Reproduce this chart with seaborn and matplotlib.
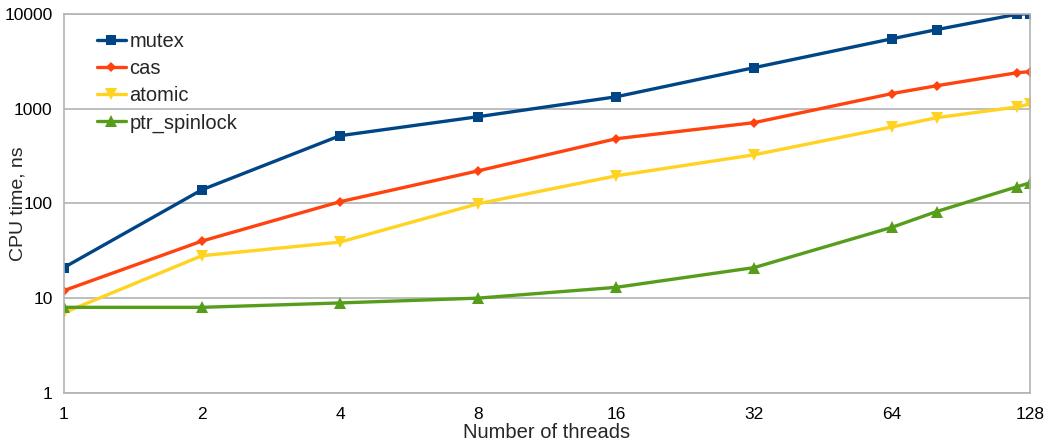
import pandas as pd
import matplotlib
matplotlib.use("Agg")
import matplotlib.pyplot as plt
import seaborn as sns

# ---------------- Data ----------------
threads = [1, 2, 4, 8, 16, 32, 64, 80, 120, 128]
mutex = [21, 139, 517, 820, 1330, 2700, 5450, 6800, 9900, 10000]
cas = [12, 40, 104, 220, 480, 710, 1440, 1740, 2390, 2450]
atomic = [7, 28, 39, 99, 195, 325, 640, 800, 1040, 1120]
ptr_spinlock = [8, 8, 8.9, 10, 13, 21, 56, 82, 150, 165]

series_names = ["mutex", "cas", "atomic", "ptr_spinlock"]
series_values = [mutex, cas, atomic, ptr_spinlock]
x_ticks = [1, 2, 4, 8, 16, 32, 64, 128]
y_ticks = [1, 10, 100, 1000, 10000]

df = pd.concat([pd.DataFrame({"threads": threads, "time": vals, "lock": name})
                for name, vals in zip(series_names, series_values)])

# ---------------- Settings ----------------
sns.set_style("white")
plt.rcParams['font.family'] = ['Liberation Sans', 'DejaVu Sans']

palette = {"mutex": "#004586", "cas": "#ff420e", "atomic": "#ffd320", "ptr_spinlock": "#579d1c"}
markers = {"mutex": "s", "cas": "D", "atomic": "v", "ptr_spinlock": "^"}
msizes = {"mutex": 7, "cas": 5, "atomic": 8, "ptr_spinlock": 8}
grid_c = "#b3b3b3"

fig, ax = plt.subplots(figsize=(10.46, 4.43), dpi=100)
fig.subplots_adjust(left=0.061, right=0.985, top=0.969, bottom=0.113)

for name in series_names:
    sub = df[df["lock"] == name]
    sns.lineplot(data=sub, x="threads", y="time", ax=ax, color=palette[name],
                 marker=markers[name], markersize=msizes[name], markeredgewidth=0,
                 linewidth=2.4, label=name)

ax.set_xscale("log", base=2)
ax.set_yscale("log")
ax.set_xlim(1, 128)
ax.set_ylim(1, 10000)
ax.set_xticks(x_ticks)
ax.set_xticklabels([str(t) for t in x_ticks])
ax.set_yticks(y_ticks)
ax.set_yticklabels([str(t) for t in y_ticks])
ax.minorticks_off()

ax.yaxis.grid(True, color=grid_c, linewidth=1.2)
ax.set_axisbelow(True)
for s in ax.spines.values():
    s.set_color(grid_c)
    s.set_linewidth(1.2)
ax.tick_params(axis="both", which="major", length=5, width=1.2, color=grid_c,
               labelsize=12.5, labelcolor="#000000", direction="out")
ax.tick_params(axis="x", pad=5)
ax.tick_params(axis="y", pad=3)

ax.set_xlabel("Number of threads", fontsize=14.5)
ax.set_ylabel("CPU time, ns", fontsize=14)
ax.xaxis.set_label_coords(0.5, -0.078)
ax.yaxis.set_label_coords(-0.039, 0.5)

ax.legend(loc="upper left", bbox_to_anchor=(0.016, 0.999), frameon=False,
          fontsize=14.5, handlelength=1.4, handletextpad=0.2, labelspacing=0.4)

plt.savefig("out.png", dpi=100)
